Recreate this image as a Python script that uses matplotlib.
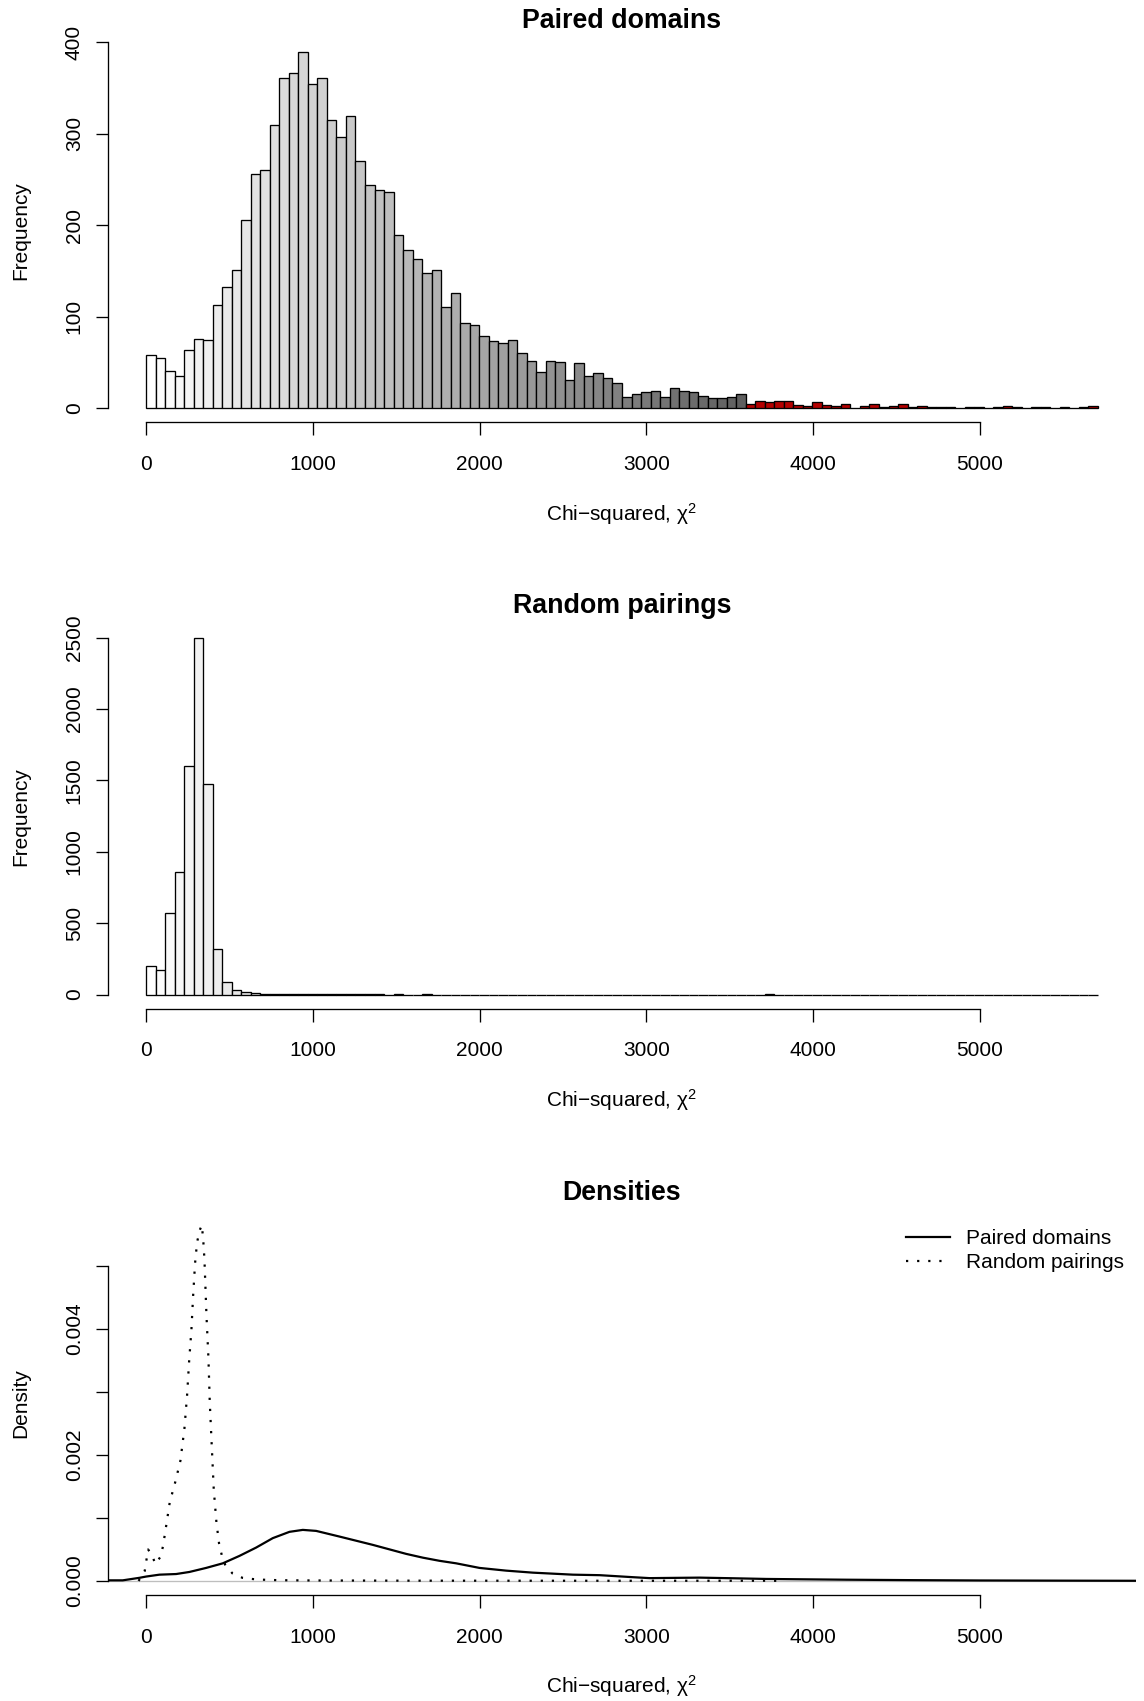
import matplotlib
matplotlib.use("Agg")
import matplotlib.pyplot as plt
from matplotlib.lines import Line2D

plt.rcParams['font.family'] = ['Liberation Sans', 'DejaVu Sans']
plt.rcParams['mathtext.fontset'] = 'custom'
plt.rcParams['mathtext.rm'] = 'Liberation Sans'
plt.rcParams['mathtext.it'] = 'Liberation Sans:italic'
plt.rcParams['mathtext.default'] = 'regular'

# ---------------------------------------------------------------- data
BIN_WIDTH = 57.09          # chi-squared units per histogram bin
N_BINS = 100
FIRST_RED_BIN = 63         # 0-based index of first highlighted bin

paired_counts = [
    58, 55, 41, 35, 64, 76, 75, 113, 132, 151,
    206, 256, 260, 310, 361, 366, 389, 354, 361, 315,
    297, 319, 270, 244, 238, 236, 189, 173, 163, 148,
    151, 111, 126, 93, 91, 79, 73, 71, 75, 60,
    52, 40, 52, 51, 31, 50, 35, 38, 33, 28,
    12, 16, 18, 19, 12, 22, 19, 18, 13, 11,
    11, 12, 16, 5, 8, 7, 8, 8, 4, 3,
    7, 4, 3, 5, 0, 2, 5, 1, 3, 5,
    1, 2, 1, 1, 1, 0, 1, 1, 0, 1,
    2, 1, 0, 1, 1, 0, 1, 0, 1, 2,
]

random_counts = [
    201, 173, 570, 862, 1600, 2497, 1476, 318, 89, 35,
    19, 12, 7, 5, 4, 3, 3, 2, 2, 2,
    1, 1, 1, 1, 1, 0, 1, 0, 0, 1,
    0, 0, 0, 0, 0, 0, 0, 0, 0, 0,
    0, 0, 0, 0, 0, 0, 0, 0, 0, 0,
    0, 0, 0, 0, 0, 0, 0, 0, 0, 0,
    0, 0, 0, 0, 0, 1, 0, 0, 0, 0,
    0, 0, 0, 0, 0, 0, 0, 0, 0, 0,
    0, 0, 0, 0, 0, 0, 0, 0, 0, 0,
    0, 0, 0, 0, 0, 0, 0, 0, 0, 0,
]

paired_dens_x = [-228, -140, -40, 0, 80, 180, 260, 360, 460, 560,
                 660, 760, 860, 940, 1020, 1160, 1360, 1560, 1660, 1760,
                 1860, 2000, 2160, 2320, 2560, 2720, 2920, 3020, 3200, 3320,
                 3520, 3720, 3920, 4200, 4600, 5000, 5500, 5937]
paired_dens_y = [0.00001, 0.00001, 0.00005, 0.00007, 0.00010, 0.00011, 0.000143, 0.000207, 0.00028, 0.000398,
                 0.00053, 0.00068, 0.00078, 0.000811, 0.000795, 0.000705, 0.000573, 0.00043, 0.00037, 0.00032,
                 0.00028, 0.000207, 0.000164, 0.000132, 0.00010, 0.000092, 0.00006, 0.000045, 0.00005, 0.000053,
                 0.000043, 0.000032, 0.000027, 0.00002, 0.000013, 0.000008, 0.000005, 0.000003]

random_dens_x = [-45, -8, 2, 12, 32, 56, 88, 102, 122, 142,
                 176, 206, 230, 246, 258, 272, 282, 294, 306, 322,
                 334, 342, 350, 362, 374, 382, 394, 406, 422, 438,
                 454, 474, 518, 578, 642, 700, 800, 1000, 1500, 2000,
                 3000, 3700, 3800]
random_dens_y = [0.0, 0.00016, 0.00033, 0.00050, 0.00043, 0.00027, 0.00039, 0.00056, 0.00090, 0.00125,
                 0.00158, 0.00191, 0.00242, 0.00295, 0.00348, 0.00399, 0.00452, 0.00505, 0.00538, 0.00557,
                 0.00565, 0.00545, 0.00511, 0.00423, 0.00354, 0.00284, 0.00214, 0.00145, 0.00093, 0.00059,
                 0.00041, 0.00026, 0.00012, 0.00005, 0.00003, 0.00002, 0.000012, 0.000008, 0.000005, 0.000004,
                 0.000003, 0.000004, 0.000002]

x_ticks = [0, 1000, 2000, 3000, 4000, 5000]
paired_yticks = [0, 100, 200, 300, 400]
random_yticks = [0, 500, 1000, 1500, 2000, 2500]
dens_yticks = [0.0, 0.001, 0.002, 0.003, 0.004, 0.005]
dens_yticklabels = ['0.000', '', '0.002', '', '0.004', '']

X_LABEL = 'Chi\u2212squared, $\\chi^{2}$'

# ---------------------------------------------------------------- layout
W, H = 1144, 1701
fig = plt.figure(figsize=(W / 100, H / 100), dpi=100)

LEFT, RIGHT = 108, 1136
PANELS = [(38.1, 422.5), (623.9, 1008.8), (1210.9, 1595.2)]

FS = 15
LW = 0.95
DENS_LW = 1.6
DOTTED = (0, (1, 4))


def make_axes(top, bottom):
    return fig.add_axes([LEFT / W, 1 - bottom / H, (RIGHT - LEFT) / W, (bottom - top) / H])


edges = [i * BIN_WIDTH for i in range(N_BINS)]
x_hi = N_BINS * BIN_WIDTH
xlim = (-0.04 * x_hi, 1.04 * x_hi)


def bin_colours():
    cols = []
    for i in range(N_BINS):
        if i >= FIRST_RED_BIN:
            cols.append('#b40000')
        else:
            g = 1.0 - i / (N_BINS - 1)
            cols.append((g, g, g))
    return cols


def style_axes(ax, yticks, ylabels=None):
    for side in ('top', 'right'):
        ax.spines[side].set_visible(False)
    for side in ('left', 'bottom'):
        ax.spines[side].set_linewidth(LW)
    ax.spines['bottom'].set_bounds(x_ticks[0], x_ticks[-1])
    ax.spines['left'].set_bounds(yticks[0], yticks[-1])
    ax.set_xticks(x_ticks)
    ax.set_xticklabels([str(t) for t in x_ticks])
    ax.set_yticks(yticks)
    if ylabels is None:
        ylabels = [str(t) for t in yticks]
    ax.set_yticklabels(ylabels, rotation=90, va='center')
    ax.tick_params(axis='both', direction='out', length=9, width=LW, labelsize=FS)
    ax.tick_params(axis='x', pad=14.3)
    ax.tick_params(axis='y', pad=8.4)
    ax.set_xlim(*xlim)
    ax.patch.set_visible(False)


def add_titles(top, bottom, title, ylabel):
    cx = (LEFT + RIGHT) / 2
    fig.text(cx / W, 1 - (top - 10.5) / H, title, ha='center', va='baseline',
             fontsize=19.3, fontweight='bold')
    fig.text(cx / W, 1 - (bottom + 98) / H, X_LABEL, ha='center', va='baseline', fontsize=FS)
    fig.text(26 / W, 1 - ((top + bottom) / 2) / H, ylabel, rotation=90,
             rotation_mode='anchor', ha='center', va='baseline', fontsize=FS)


# ---------------------------------------------------------------- panel 1: paired domains
cols = bin_colours()
top, bottom = PANELS[0]
ax1 = make_axes(top, bottom)
ax1.bar(edges, paired_counts, width=BIN_WIDTH, align='edge', color=cols,
        edgecolor='black', linewidth=LW)
ymax = max(paired_counts)
ax1.set_ylim(-0.04 * ymax, 1.04 * ymax)
style_axes(ax1, paired_yticks)
add_titles(top, bottom, 'Paired domains', 'Frequency')

# ---------------------------------------------------------------- panel 2: random pairings
top, bottom = PANELS[1]
ax2 = make_axes(top, bottom)
ax2.bar(edges, random_counts, width=BIN_WIDTH, align='edge', color=cols,
        edgecolor='black', linewidth=LW)
ymax = max(random_counts)
ax2.set_ylim(-0.04 * ymax, 1.04 * ymax)
style_axes(ax2, random_yticks)
add_titles(top, bottom, 'Random pairings', 'Frequency')

# ---------------------------------------------------------------- panel 3: densities
top, bottom = PANELS[2]
ax3 = make_axes(top, bottom)
ax3.axhline(0, color='#bebebe', linewidth=LW, zorder=1)
ax3.plot(paired_dens_x, paired_dens_y, color='black', linewidth=DENS_LW,
         solid_joinstyle='round', zorder=3)
ax3.plot(random_dens_x, random_dens_y, color='black', linewidth=DENS_LW,
         linestyle=DOTTED, zorder=3)
ymax = max(max(paired_dens_y), max(random_dens_y))
ax3.set_ylim(-0.04 * ymax, 1.04 * ymax)
style_axes(ax3, dens_yticks, dens_yticklabels)
add_titles(top, bottom, 'Densities', 'Density')

handles = [Line2D([], [], color='black', linewidth=DENS_LW),
           Line2D([], [], color='black', linewidth=DENS_LW, linestyle=DOTTED)]
fig.legend(handles, ['Paired domains', 'Random pairings'], loc='upper left',
           bbox_to_anchor=(906 / W, 1 - 1229 / H), bbox_transform=fig.transFigure,
           frameon=False, fontsize=FS, borderpad=0, borderaxespad=0,
           handlelength=2.1, handletextpad=0.8, labelspacing=0.25)

fig.savefig('out.png', dpi=100)
